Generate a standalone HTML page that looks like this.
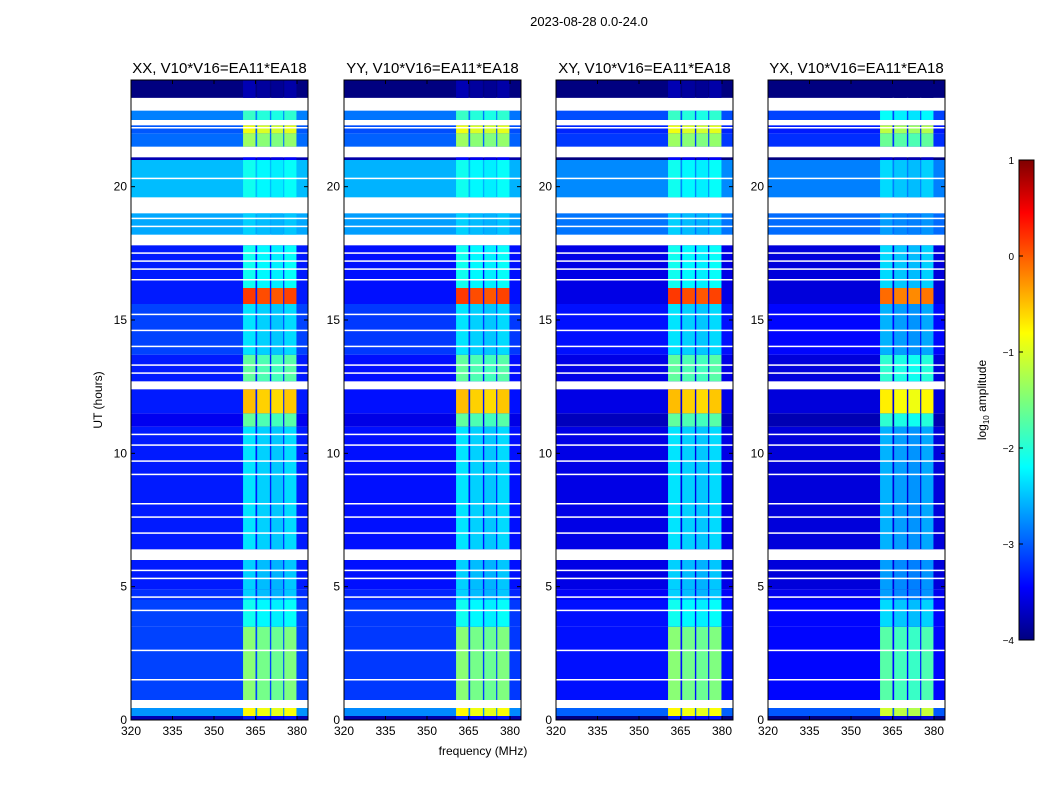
<!DOCTYPE html>
<html><head><meta charset="utf-8"><style>
body{margin:0;background:#fff;font-family:"Liberation Sans",sans-serif}
svg text{font-family:"Liberation Sans",sans-serif}
</style></head><body>
<svg id="chart" width="1050" height="800" xmlns="http://www.w3.org/2000/svg">
<defs><linearGradient id="jet" x1="0" y1="1" x2="0" y2="0">
<stop offset="0" stop-color="#00007f"/><stop offset="0.11" stop-color="#0000ff"/><stop offset="0.36" stop-color="#00ffff"/><stop offset="0.5" stop-color="#7dff7a"/><stop offset="0.64" stop-color="#ffff00"/><stop offset="0.89" stop-color="#ff0000"/><stop offset="1" stop-color="#7f0000"/></linearGradient></defs>
<text x="589" y="26" font-size="13" text-anchor="middle">2023-08-28 0.0-24.0</text>
<text x="483" y="755" font-size="12" text-anchor="middle">frequency (MHz)</text>
<text x="102" y="400" font-size="12" text-anchor="middle" transform="rotate(-90 102 400)">UT (hours)</text>
<g id="panels"></g>
<rect x="1019" y="160" width="15" height="480" fill="url(#jet)" stroke="#000" stroke-width="1"/>
<g id="cbticks"></g>
<text x="986" y="400" font-size="12" text-anchor="middle" transform="rotate(-90 986 400)">log<tspan font-size="8" dy="3">10</tspan><tspan dy="-3"> amplitude</tspan></text>
</svg>
<script>
const titles=["XX, V10*V16=EA11*EA18","YY, V10*V16=EA11*EA18","XY, V10*V16=EA11*EA18","YX, V10*V16=EA11*EA18"];
const panelLeft=[131,344,556,768];
const baseOffset=[-0.25,-0.3,-0.5,-0.55];
const bandOffset=[-0.15,-0.15,-0.15,-0.4];
// time segments: start hour, end hour
const segStart=[0,0.15,0.45,0.75,3.5,4.5,4.9,6.0,6.4,11.0,11.5,12.4,12.7,13.7,15.6,16.2,17.8,18.2,19.0,19.6,21.0,21.1,21.5,22.0,22.3,22.5,22.85,23.33];
const segEnd=[0.15,0.45,0.75,3.5,4.5,4.9,6.0,6.4,11.0,11.5,12.4,12.7,13.7,15.6,16.2,17.8,18.2,19.0,19.6,21.0,21.1,21.5,22.0,22.3,22.5,22.85,23.33,24];
// log10 amplitude (null = no data)
const segBase=[-3.5,-2.4,null,-2.8,-2.8,-2.9,-3.0,null,-3.0,-3.2,-3.0,null,-3.0,-2.8,-3.0,-3.0,null,-2.3,null,-2.2,-3.5,null,-2.6,-2.7,null,-2.5,null,-3.8];
const segBand=[-3.2,-0.8,null,-1.4,-2.0,-2.3,-2.3,null,-2.2,-1.6,-0.5,null,-1.6,-2.2,0.15,-2.0,null,-2.3,null,-2.0,-3.3,null,-1.3,-0.9,null,-1.8,null,-3.7];
// frequency sub-bands (MHz)
const bandLo=[360.5,365.6,370.7,375.4];
const bandHi=[365.0,370.2,375.0,379.8];
const bandGain=[0.1,0,-0.05,0.05];
const whiteLines=[1.5,2.6,4.1,4.6,5.3,5.6,7.0,7.6,8.1,9.2,9.7,10.3,10.7,13.0,13.3,14.0,14.6,15.2,16.5,16.9,17.2,17.5,18.5,18.8,20.3,22.2];
const xTicks=[320,335,350,365,380];
const yTicks=[0,5,10,15,20];
const cbTicks=[1,0,-1,-2,-3,-4];

function jet(v){let t=(v+4)/5;t=Math.max(0,Math.min(1,t));
 const r=Math.max(0,Math.min(1,1.5-Math.abs(4*t-3))),g=Math.max(0,Math.min(1,1.5-Math.abs(4*t-2))),b=Math.max(0,Math.min(1,1.5-Math.abs(4*t-1)));
 return `rgb(${Math.round(r*255)},${Math.round(g*255)},${Math.round(b*255)})`;}
const NS="http://www.w3.org/2000/svg";
function mk(tag,attrs,parent){const e=document.createElementNS(NS,tag);for(const k in attrs)e.setAttribute(k,attrs[k]);parent.appendChild(e);return e;}
const yS=h=>720-h*(640/24);
const W=177;
const G=document.getElementById('panels');
panelLeft.forEach((L,p)=>{
 const xS=f=>L+(f-320)*(166/60);
 const g=mk('g',{},G);
 
 
 segStart.forEach((s,i)=>{
  if(segBase[i]===null)return;
  const y0=yS(segEnd[i]),h=yS(segStart[i])-y0;
  const r=mk('rect',{x:L,y:y0,width:W,height:h,fill:jet(segBase[i]+baseOffset[p])},g);
  
  
  bandLo.forEach((lo,j)=>{
   const b=mk('rect',{x:xS(lo),y:y0,width:xS(bandHi[j])-xS(lo),height:h,fill:jet(segBand[i]+bandOffset[p]+bandGain[j])},g);
   
   
  });
 });
 whiteLines.forEach(w=>{
  const l=mk('rect',{x:L,y:yS(w)-1,width:W,height:1.5,fill:'#fff'},g);
  
  
 });
 const fr=mk('rect',{x:L,y:80,width:W,height:640,fill:'none',stroke:'#000','stroke-width':1},g);
 
 
 const t=mk('text',{x:L+W/2,y:73,'font-size':15,'text-anchor':'middle'},g);t.textContent=titles[p];
 
 
 xTicks.forEach(f=>{const x=xS(f);
  mk('line',{x1:x,y1:720,x2:x,y2:716,stroke:'#000'},g);mk('line',{x1:x,y1:80,x2:x,y2:84,stroke:'#000'},g);
  const tx=mk('text',{x:x,y:735,'font-size':12,'text-anchor':'middle'},g);tx.textContent=f;
  
  });
 yTicks.forEach(h=>{const y=yS(h);
  mk('line',{x1:L,y1:y,x2:L+4,y2:y,stroke:'#000'},g);mk('line',{x1:L+W,y1:y,x2:L+W-4,y2:y,stroke:'#000'},g);
  const ty=mk('text',{x:L-4,y:y+4,'font-size':12,'text-anchor':'end'},g);ty.textContent=h;
  
  });
});
const CB=document.getElementById('cbticks');
cbTicks.forEach(v=>{const y=640-(v+4)*96;
 mk('line',{x1:1019,y1:y,x2:1023,y2:y,stroke:'#000'},CB);
 const t=mk('text',{x:1014,y:y+4,'font-size':10,'text-anchor':'end'},CB);t.textContent=v===0?'0':(v<0?'\u2212'+(-v):v);
 
 });
</script>
</body></html>
